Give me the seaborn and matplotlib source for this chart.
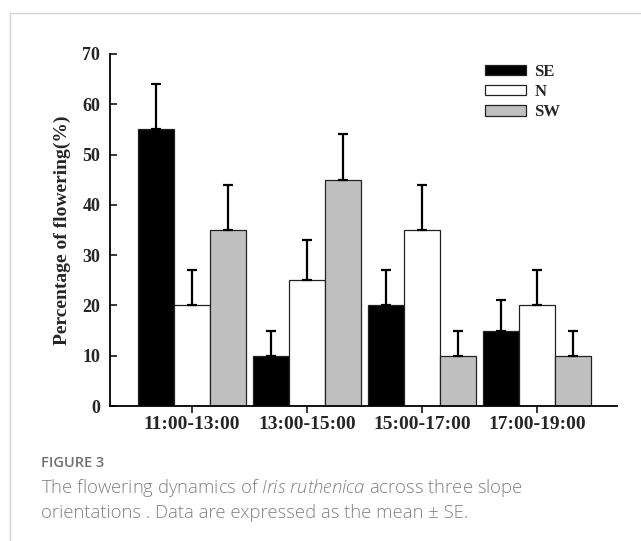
import pandas as pd
import seaborn as sns
import matplotlib.pyplot as plt
from matplotlib.lines import Line2D
from matplotlib.patches import Patch

# data (mean and SE, %)
periods = ["11:00-13:00", "13:00-15:00", "15:00-17:00", "17:00-19:00"]
slopes = ["SE", "N", "SW"]
se_mean = [55, 10, 20, 15]
se_err = [9, 5, 7, 6]
n_mean = [20, 25, 35, 20]
n_err = [7, 8, 9, 7]
sw_mean = [35, 45, 10, 10]
sw_err = [9, 9, 5, 5]
colors = ["#000000", "#ffffff", "#c0c0c0"]
yticks = [0, 10, 20, 30, 40, 50, 60, 70]

means = [se_mean, n_mean, sw_mean]
errs = [se_err, n_err, sw_err]
df = pd.DataFrame({
    "period": periods * 3,
    "slope": [s for s in slopes for _ in periods],
    "value": se_mean + n_mean + sw_mean,
})

sns.set_style("white")
plt.rcParams["font.family"] = ["Liberation Serif", "DejaVu Serif"]
plt.rcParams["mathtext.fontset"] = "custom"
plt.rcParams["mathtext.rm"] = "Open Sans:light"
plt.rcParams["mathtext.it"] = "Open Sans:italic:light"

fig = plt.figure(figsize=(6.41, 5.41), dpi=100)
ax = fig.add_axes([0.1716, 0.2495, 0.791, 0.6507])

sns.barplot(data=df, x="period", y="value", hue="slope", order=periods,
            hue_order=slopes, palette=colors, errorbar=None, width=0.94,
            gap=0, edgecolor="#222222", linewidth=0.9, ax=ax, legend=False)

# one-sided error bars on top of each bar
for cont, err in zip(ax.containers, errs):
    for bar, e in zip(cont, err):
        xc = bar.get_x() + bar.get_width() / 2
        h = bar.get_height()
        ax.errorbar(xc, h, yerr=[[0], [e]], fmt="none", ecolor="black",
                    elinewidth=1.6, capsize=3.6, capthick=1.6)

ax.set_xlim(-0.713, 3.696)
ax.set_ylim(0, 70)
ax.set_yticks(yticks)
ax.set_xlabel("")
ax.set_ylabel("Percentage of flowering(%)", fontsize=14, fontweight="bold",
              labelpad=8)
sns.despine(ax=ax)
for s in ["left", "bottom"]:
    ax.spines[s].set_linewidth(1.3)
    ax.spines[s].set_color("black")
ax.tick_params(axis="y", direction="in", length=5, width=1.3, pad=7,
               labelsize=13, left=True)
ax.tick_params(axis="x", direction="out", length=5, width=1.3, pad=2,
               labelsize=14, bottom=True)
for lab in ax.get_xticklabels() + ax.get_yticklabels():
    lab.set_fontweight("bold")

handles = [Patch(facecolor=c, edgecolor="#222222", linewidth=0.9) for c in colors]
ax.legend(handles, slopes, loc="upper left", bbox_to_anchor=(0.757, 0.882),
          bbox_transform=fig.transFigure, frameon=False,
          prop={"weight": "bold", "size": 12}, handlelength=2.45,
          handleheight=0.6, labelspacing=0.25, handletextpad=0.5,
          borderpad=0, borderaxespad=0)

# panel frame (top and left edges)
fig.add_artist(Line2D([9.5 / 641, 1], [1 - 12.5 / 541] * 2, color="#d3d3d3", lw=1))
fig.add_artist(Line2D([9.5 / 641] * 2, [0, 1 - 12.5 / 541], color="#d3d3d3", lw=1))

fig.text(41 / 641, 1 - 463 / 541, "FIGURE 3", family="Open Sans", fontsize=10.5,
         fontweight="semibold", color="#707070", va="center")
fig.text(41 / 641, 1 - 488 / 541,
         r"The flowering dynamics of $\mathit{Iris\ ruthenica}$ across three slope",
         family="Open Sans", fontweight="light", fontsize=13.3, color="#808080",
         va="center")
fig.text(41 / 641, 1 - 513 / 541,
         "orientations . Data are expressed as the mean \u00b1 SE.",
         family="Open Sans", fontweight="light", fontsize=13.3, color="#808080",
         va="center")

fig.savefig("out.png", dpi=100)
